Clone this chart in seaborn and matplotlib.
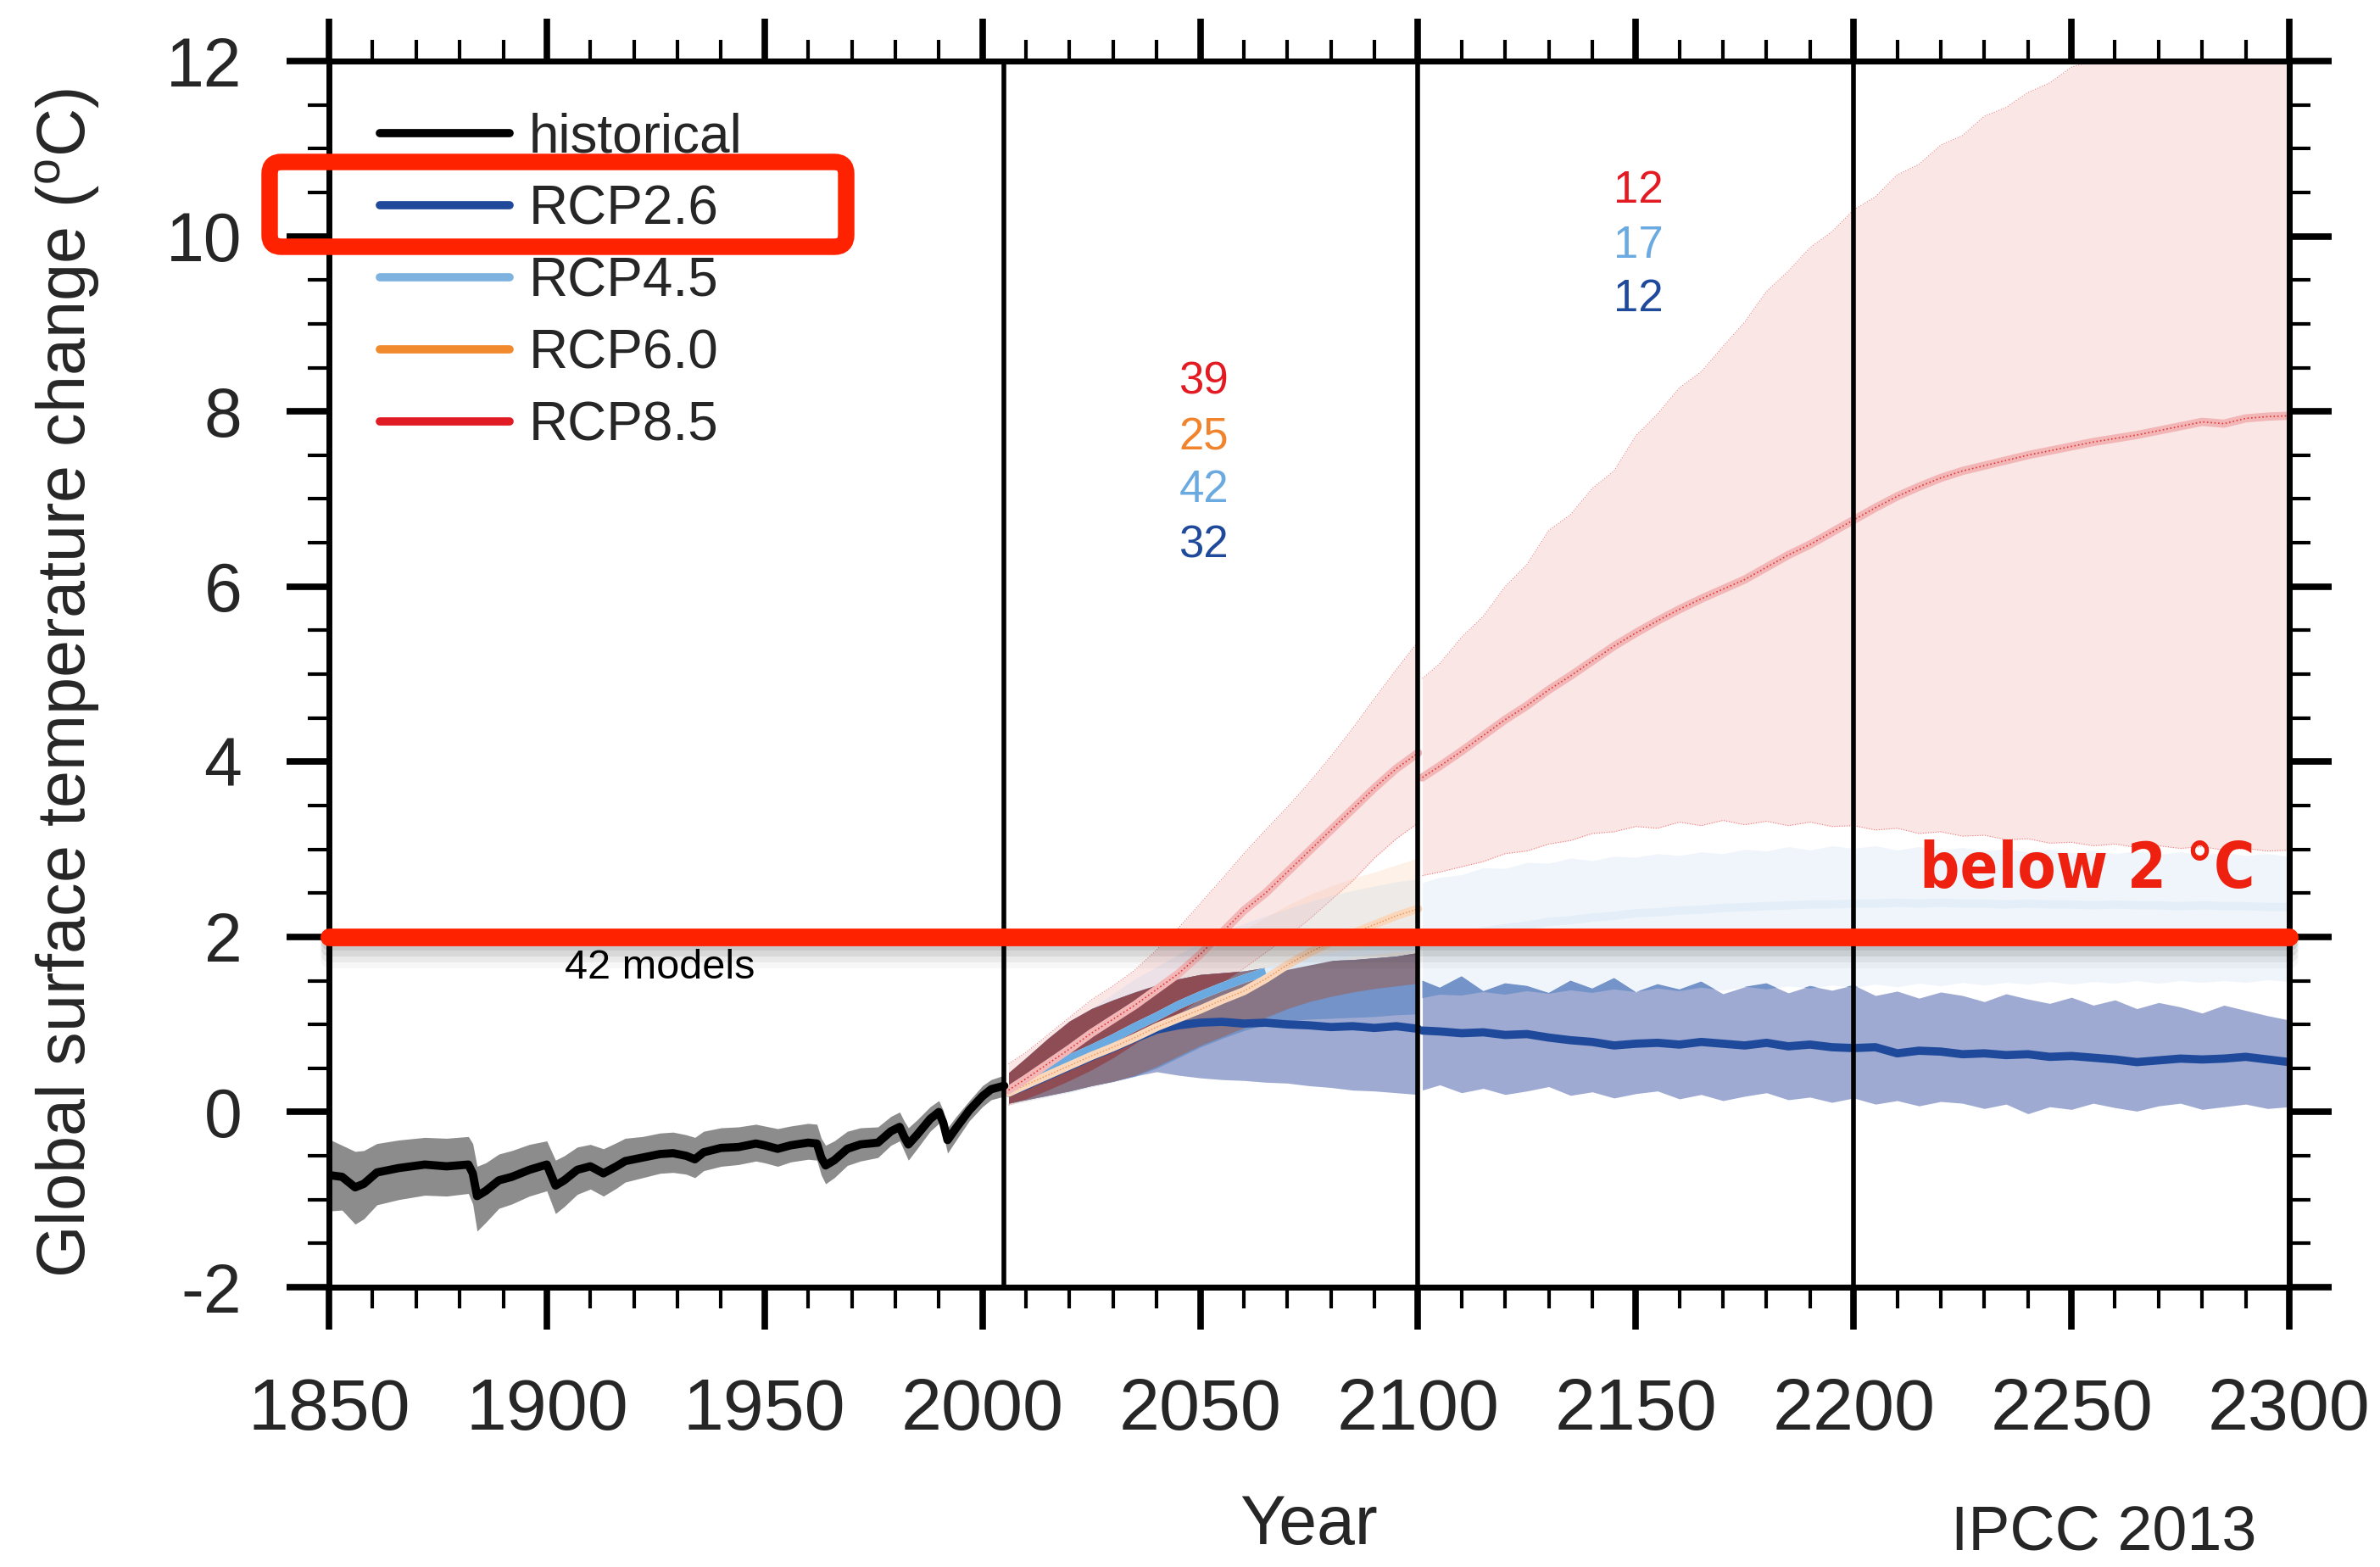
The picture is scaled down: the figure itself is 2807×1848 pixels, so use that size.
import numpy as np
import matplotlib
matplotlib.use('Agg')
import matplotlib.pyplot as plt
import seaborn as sns
from matplotlib.lines import Line2D
from matplotlib.patches import FancyBboxPatch
from matplotlib.transforms import IdentityTransform
import matplotlib.patheffects as pe
from matplotlib.ticker import MultipleLocator
from matplotlib import font_manager

# ---------------- data ----------------
hist_years = [1850, 1853, 1856, 1858, 1861, 1866, 1872, 1877, 1882, 1883,
              1884, 1886, 1889, 1892, 1896, 1900, 1902, 1904, 1907, 1910,
              1913, 1916, 1918, 1922, 1926, 1929, 1932, 1934, 1936, 1940,
              1944, 1948, 1950, 1953, 1956, 1960, 1962, 1963, 1964, 1966,
              1969, 1972, 1976, 1979, 1981, 1982, 1983, 1985, 1988, 1990,
              1991, 1992, 1994, 1997, 2000, 2002, 2005]
hist_mean = [-0.72, -0.74, -0.86, -0.82, -0.69, -0.64, -0.60, -0.62, -0.60, -0.70,
             -0.96, -0.90, -0.78, -0.74, -0.66, -0.60, -0.84, -0.78, -0.66, -0.62,
             -0.70, -0.62, -0.56, -0.52, -0.48, -0.47, -0.50, -0.54, -0.46, -0.41,
             -0.40, -0.36, -0.38, -0.42, -0.38, -0.35, -0.36, -0.52, -0.61, -0.55,
             -0.42, -0.37, -0.35, -0.22, -0.17, -0.28, -0.37, -0.26, -0.08, 0.00,
             -0.12, -0.32, -0.18, 0.02, 0.18, 0.26, 0.30]
hist_hi = [-0.31, -0.38, -0.45, -0.44, -0.36, -0.32, -0.29, -0.30, -0.28, -0.36,
           -0.62, -0.58, -0.48, -0.44, -0.37, -0.33, -0.55, -0.50, -0.40, -0.37,
           -0.42, -0.35, -0.30, -0.28, -0.24, -0.23, -0.26, -0.29, -0.22, -0.18,
           -0.17, -0.14, -0.16, -0.19, -0.16, -0.13, -0.14, -0.30, -0.38, -0.33,
           -0.22, -0.18, -0.17, -0.05, 0.00, -0.10, -0.18, -0.09, 0.06, 0.13,
           0.02, -0.18, -0.05, 0.13, 0.30, 0.37, 0.42]
hist_lo = [-1.13, -1.12, -1.28, -1.22, -1.06, -1.00, -0.95, -0.96, -0.93, -1.05,
           -1.36, -1.26, -1.10, -1.05, -0.96, -0.90, -1.16, -1.08, -0.94, -0.88,
           -0.96, -0.87, -0.80, -0.75, -0.70, -0.69, -0.71, -0.75, -0.67, -0.62,
           -0.60, -0.56, -0.58, -0.62, -0.57, -0.54, -0.55, -0.72, -0.82, -0.75,
           -0.61, -0.56, -0.52, -0.38, -0.33, -0.44, -0.55, -0.42, -0.22, -0.13,
           -0.25, -0.47, -0.32, -0.10, 0.06, 0.14, 0.18]

years_a = [2006, 2010, 2015, 2020, 2025, 2030, 2035, 2040, 2045, 2050,
           2055, 2060, 2065, 2070, 2075, 2080, 2085, 2090, 2095, 2100]
rcp26_mean_a = [0.22, 0.30, 0.41, 0.52, 0.63, 0.73, 0.84, 0.94, 0.99, 1.02,
                1.03, 1.01, 1.02, 1.00, 0.99, 0.97, 0.98, 0.96, 0.98, 0.95]
rcp26_lo_a = [0.10, 0.14, 0.19, 0.24, 0.30, 0.35, 0.41, 0.46, 0.42, 0.39,
              0.37, 0.36, 0.34, 0.33, 0.30, 0.28, 0.25, 0.24, 0.22, 0.20]
rcp26_hi_a = [0.45, 0.62, 0.84, 1.04, 1.18, 1.28, 1.37, 1.45, 1.52, 1.57,
              1.59, 1.61, 1.65, 1.68, 1.70, 1.73, 1.74, 1.76, 1.78, 1.82]
rcp45_mean_a = [0.24, 0.35, 0.48, 0.61, 0.72, 0.84, 0.97, 1.09, 1.22, 1.33,
                1.43, 1.52, 1.60, 1.67, 1.72, 1.77, 1.81, 1.84, 1.87, 1.89]
rcp45_lo_a = [0.08, 0.12, 0.17, 0.22, 0.28, 0.34, 0.40, 0.50, 0.62, 0.74,
              0.84, 0.93, 1.00, 1.04, 1.06, 1.07, 1.08, 1.09, 1.11, 1.12]
rcp45_hi_a = [0.42, 0.58, 0.80, 1.00, 1.18, 1.35, 1.52, 1.66, 1.80, 1.93,
              2.05, 2.15, 2.24, 2.32, 2.40, 2.47, 2.53, 2.58, 2.63, 2.66]
rcp60_mean_a = [0.22, 0.31, 0.42, 0.53, 0.64, 0.74, 0.85, 0.97, 1.07, 1.17,
                1.28, 1.38, 1.52, 1.68, 1.82, 1.94, 2.04, 2.14, 2.24, 2.32]
rcp60_lo_a = [0.08, 0.12, 0.18, 0.23, 0.29, 0.35, 0.42, 0.52, 0.64, 0.76,
              0.86, 0.96, 1.08, 1.18, 1.26, 1.32, 1.37, 1.41, 1.44, 1.47]
rcp60_hi_a = [0.40, 0.52, 0.68, 0.84, 1.00, 1.15, 1.30, 1.46, 1.62, 1.78,
              1.94, 2.08, 2.22, 2.36, 2.48, 2.58, 2.67, 2.74, 2.82, 2.90]
rcp85_mean_a = [0.25, 0.38, 0.55, 0.72, 0.90, 1.06, 1.22, 1.40, 1.58, 1.80,
                2.05, 2.30, 2.50, 2.74, 2.98, 3.22, 3.46, 3.70, 3.92, 4.10]
rcp85_lo_a = [0.08, 0.15, 0.25, 0.36, 0.48, 0.62, 0.78, 0.95, 1.12, 1.30,
              1.48, 1.64, 1.82, 2.00, 2.20, 2.42, 2.64, 2.90, 3.12, 3.30]
rcp85_hi_a = [0.55, 0.68, 0.88, 1.08, 1.28, 1.44, 1.62, 1.85, 2.10, 2.38,
              2.66, 2.95, 3.22, 3.48, 3.76, 4.06, 4.38, 4.72, 5.05, 5.37]

years_b = [2101, 2105, 2110, 2115, 2120, 2125, 2130, 2135, 2140, 2145,
           2150, 2155, 2160, 2165, 2170, 2175, 2180, 2185, 2190, 2195,
           2200, 2205, 2210, 2215, 2220, 2225, 2230, 2235, 2240, 2245,
           2250, 2255, 2260, 2265, 2270, 2275, 2280, 2285, 2290, 2295,
           2300]
rcp26_mean_b = [0.93, 0.92, 0.90, 0.91, 0.88, 0.89, 0.85, 0.82, 0.80, 0.76,
                0.78, 0.79, 0.77, 0.80, 0.78, 0.76, 0.79, 0.75, 0.77, 0.74,
                0.73, 0.74, 0.67, 0.70, 0.69, 0.66, 0.67, 0.65, 0.66, 0.63,
                0.64, 0.62, 0.60, 0.57, 0.59, 0.61, 0.60, 0.61, 0.63, 0.60,
                0.57]
rcp26_hi_b = [1.50, 1.42, 1.55, 1.38, 1.47, 1.44, 1.36, 1.50, 1.41, 1.53,
              1.37, 1.46, 1.40, 1.49, 1.35, 1.43, 1.47, 1.36, 1.44, 1.39,
              1.45, 1.33, 1.38, 1.30, 1.37, 1.33, 1.26, 1.35, 1.29, 1.24,
              1.31, 1.22, 1.28, 1.18, 1.25, 1.20, 1.13, 1.22, 1.16, 1.10,
              1.05]
rcp26_lo_b = [0.25, 0.31, 0.22, 0.27, 0.20, 0.24, 0.29, 0.19, 0.23, 0.16,
              0.21, 0.24, 0.15, 0.20, 0.13, 0.18, 0.22, 0.14, 0.17, 0.11,
              0.16, 0.09, 0.13, 0.07, 0.12, 0.10, 0.04, 0.09, -0.02, 0.06,
              0.03, 0.10, 0.05, 0.01, 0.07, 0.10, 0.03, 0.06, 0.09, 0.04,
              0.06]
rcp45_mean_b = [1.95, 1.98, 2.02, 2.06, 2.10, 2.13, 2.17, 2.19, 2.22, 2.24,
                2.27, 2.28, 2.30, 2.31, 2.33, 2.34, 2.35, 2.36, 2.37, 2.37,
                2.38, 2.38, 2.39, 2.38, 2.39, 2.38, 2.38, 2.37, 2.38, 2.37,
                2.37, 2.36, 2.37, 2.36, 2.36, 2.35, 2.36, 2.35, 2.35, 2.34,
                2.34]
rcp45_hi_b = [2.62, 2.68, 2.71, 2.79, 2.78, 2.85, 2.84, 2.90, 2.87, 2.92,
              2.91, 2.95, 2.93, 2.97, 2.95, 3.00, 2.98, 3.03, 2.99, 3.04,
              3.01, 3.04, 2.99, 3.03, 2.99, 3.02, 2.98, 3.01, 2.97, 3.00,
              2.96, 2.99, 2.95, 2.98, 2.94, 2.97, 2.94, 2.96, 2.93, 2.95,
              2.92]
rcp45_lo_b = [1.30, 1.34, 1.33, 1.37, 1.34, 1.38, 1.35, 1.39, 1.36, 1.40,
              1.37, 1.41, 1.38, 1.42, 1.39, 1.43, 1.40, 1.44, 1.41, 1.45,
              1.42, 1.46, 1.43, 1.47, 1.44, 1.48, 1.45, 1.48, 1.46, 1.49,
              1.46, 1.49, 1.47, 1.50, 1.47, 1.50, 1.48, 1.50, 1.48, 1.51,
              1.49]
rcp85_mean_b = [3.82, 3.95, 4.12, 4.30, 4.48, 4.64, 4.82, 4.98, 5.15, 5.32,
                5.47, 5.61, 5.74, 5.86, 5.97, 6.08, 6.22, 6.36, 6.48, 6.62,
                6.76, 6.90, 7.03, 7.14, 7.24, 7.32, 7.38, 7.44, 7.50, 7.55,
                7.60, 7.65, 7.69, 7.73, 7.78, 7.83, 7.88, 7.86, 7.92, 7.94,
                7.95]
rcp85_hi_b = [4.95, 5.12, 5.42, 5.66, 6.00, 6.25, 6.64, 6.82, 7.12, 7.32,
              7.72, 7.97, 8.27, 8.45, 8.74, 9.02, 9.37, 9.60, 9.87, 10.05,
              10.30, 10.45, 10.70, 10.82, 11.04, 11.15, 11.37, 11.47, 11.64, 11.75,
              11.93, 12.0, 12.0, 12.0, 12.0, 12.0, 12.0, 12.0, 12.0, 12.0,
              12.0]
rcp85_lo_b = [2.70, 2.74, 2.80, 2.86, 2.95, 2.98, 3.06, 3.10, 3.18, 3.20,
              3.26, 3.24, 3.31, 3.27, 3.33, 3.28, 3.32, 3.27, 3.31, 3.26,
              3.27, 3.22, 3.24, 3.18, 3.20, 3.15, 3.16, 3.11, 3.12, 3.07,
              3.08, 3.04, 3.06, 3.02, 3.04, 3.01, 3.03, 2.99, 3.01, 2.98,
              2.99]

legend_labels = ['historical', 'RCP2.6', 'RCP4.5', 'RCP6.0', 'RCP8.5']
count_labels_a = ['39', '25', '42', '32']
count_labels_b = ['12', '17', '12']
x_ticks = [1850, 1900, 1950, 2000, 2050, 2100, 2150, 2200, 2250, 2300]
y_ticks = [-2, 0, 2, 4, 6, 8, 10, 12]
period_lines = [2005, 2100, 2200]
threshold = 2.0

# ---------------- style ----------------
C26 = '#1f4a9c'
C45 = '#6aaae0'
C60 = '#f0832c'
C85 = '#e31a22'

sns.set_theme(style='ticks')
plt.rcParams['font.family'] = ['Liberation Sans', 'DejaVu Sans']
plt.rcParams['mathtext.fontset'] = 'custom'
plt.rcParams['mathtext.rm'] = 'Liberation Sans'
plt.rcParams['mathtext.it'] = 'Liberation Sans'
plt.rcParams['axes.unicode_minus'] = False

W, H = 2807, 1848
fig = plt.figure(figsize=(W / 100, H / 100), dpi=100)
ax = fig.add_axes([388 / W, 1 - 1518 / H, (2700 - 388) / W, (1518 - 72) / H])
ax.set_facecolor('white')

ya, yb = np.array(years_a), np.array(years_b)
A = {k: np.array(v) for k, v in dict(
    m26=rcp26_mean_a, l26=rcp26_lo_a, h26=rcp26_hi_a,
    m45=rcp45_mean_a, l45=rcp45_lo_a, h45=rcp45_hi_a,
    m60=rcp60_mean_a, l60=rcp60_lo_a, h60=rcp60_hi_a,
    m85=rcp85_mean_a, l85=rcp85_lo_a, h85=rcp85_hi_a).items()}
B = {k: np.array(v) for k, v in dict(
    m26=rcp26_mean_b, l26=rcp26_lo_b, h26=rcp26_hi_b,
    m45=rcp45_mean_b, l45=rcp45_lo_b, h45=rcp45_hi_b,
    m85=rcp85_mean_b, l85=rcp85_lo_b, h85=rcp85_hi_b).items()}

# faded bands (other scenarios)
for x, D in ((ya, A), (yb, B)):
    ax.fill_between(x, D['l85'], D['h85'], color='#f4a6a6', alpha=0.28, lw=0, zorder=1)
    ax.plot(x, D['h85'], color='#ec7a7a', lw=0.8, ls=':', zorder=1.1)
    ax.plot(x, D['l85'], color='#ec7a7a', lw=0.8, ls=':', zorder=1.1)
    ax.fill_between(x, D['l45'], D['h45'], color='#b9d3ec', alpha=0.22, lw=0, zorder=1.2)
ax.fill_between(ya, A['l60'], A['h60'], color='#f7c29a', alpha=0.22, lw=0, zorder=1.1)

# historical band
ax.fill_between(hist_years, hist_lo, hist_hi, color='#8c8c8c', lw=0, zorder=2)


def overlap(x, lo1, hi1, lo2, hi2, color, z):
    lo = np.maximum(lo1, lo2)
    hi = np.minimum(hi1, hi2)
    ax.fill_between(x, lo, hi, where=hi > lo, interpolate=True, color=color, lw=0, zorder=z)


# RCP2.6 band and overlaps
for x, D in ((ya, A), (yb, B)):
    ax.fill_between(x, D['l26'], D['h26'], color='#9eaad2', lw=0, zorder=3)
    overlap(x, D['l26'], D['h26'], D['l45'], D['h45'], '#7393c9', 3.1)
overlap(ya, A['l26'], A['h26'], A['l60'], A['h60'], '#887585', 3.2)
overlap(ya, A['l26'], A['h26'], A['l85'], A['h85'], '#8e4d55', 3.3)

# mean lines
for x, D in ((ya, A), (yb, B)):
    sns.lineplot(x=x, y=D['m26'], color=C26, lw=7, ax=ax, zorder=4)
for x, D in ((ya, A), (yb, B)):
    sns.lineplot(x=x, y=D['m45'], color='#e4eef8', lw=7, ax=ax, zorder=4.1)
inside = A['m45'] < A['h26'] - 0.02
ax.plot(ya, np.where(inside, A['m45'], np.nan), color=C45, lw=7, zorder=4.2,
        solid_capstyle='butt')
sns.lineplot(x=ya, y=A['m60'], color='#fad6ba', lw=7, ax=ax, zorder=4.3)
ax.plot(ya, A['m60'], color='#f09050', lw=1.0, ls=':', zorder=4.31)
for x, D in ((ya, A), (yb, B)):
    sns.lineplot(x=x, y=D['m85'], color='#f3b6b6', lw=7, ax=ax, zorder=4.4)
    ax.plot(x, D['m85'], color='#e03a3a', lw=1.2, ls=':', zorder=4.41)

sns.lineplot(x=hist_years, y=hist_mean, color='black', lw=7, ax=ax, zorder=4.5)

for yr in period_lines:
    ax.axvline(yr, color='black', lw=4, zorder=5)

# axes
ax.set_xlim(1850, 2300)
ax.set_ylim(-2, 12)
ax.set_xticks(x_ticks)
ax.set_yticks(y_ticks)
ax.xaxis.set_minor_locator(MultipleLocator(10))
ax.yaxis.set_minor_locator(MultipleLocator(0.5))
ax.tick_params(which='major', direction='out', length=36, width=5.5,
               top=True, right=True, color='black')
ax.tick_params(which='minor', direction='out', length=18, width=3,
               top=True, right=True, color='black')
ax.tick_params(axis='x', labelsize=62, pad=40)
ax.tick_params(axis='y', labelsize=58, pad=38)
for s in ax.spines.values():
    s.set_linewidth(5)
    s.set_color('black')
    s.set_zorder(10)

ax.set_ylabel(r'Global surface temperature change ($^{\mathrm{o}}$C)', fontsize=57)
ax.yaxis.set_label_coords(-0.116, 0.493)
ax.set_xlabel('Year', fontsize=58)
ax.xaxis.set_label_coords(0.5, -0.169)

# legend
handles = [Line2D([0], [0], color=c, lw=7) for c in
           ['black', C26, '#7eb3e0', '#f08a2c', '#e01b24']]
ax.legend(handles, legend_labels, loc='upper left', bbox_to_anchor=(0.026, 0.958),
          frameon=False, fontsize=46, handlelength=2.4, handletextpad=0.35,
          labelspacing=0.39, borderpad=0, borderaxespad=0)

# model counts
for lab, yv, c in zip(count_labels_a, [8.34, 7.70, 7.10, 6.47], [C85, C60, C45, C26]):
    ax.text(2050.8, yv, lab, color=c, fontsize=38, ha='center', va='center', zorder=6)
for lab, yv, c in zip(count_labels_b, [10.52, 9.89, 9.28], [C85, C45, C26]):
    ax.text(2150.6, yv, lab, color=c, fontsize=38, ha='center', va='center', zorder=6)
ax.text(1926, 1.65, '42 models', color='black', fontsize=35, ha='center', va='center', zorder=6)

# annotations: 2 degree line, box, text
shadow = [pe.SimpleLineShadow(offset=(0, -o), shadow_color='black', alpha=a)
          for o, a in ((4, 0.10), (9, 0.08), (14, 0.05), (19, 0.03))]
ax.axhline(threshold, color='#ff2200', lw=15, solid_capstyle='round', clip_on=False,
           zorder=20, path_effects=shadow + [pe.Normal()])

box = FancyBboxPatch((318, H - 291), 680, 100, boxstyle='round,pad=0,rounding_size=14',
                     transform=IdentityTransform(), lw=14, ec='#ff2200', fc='none', zorder=20)
fig.add_artist(box)

# pick a condensed bold face for the hand-written note if one is installed
cond = [f for f in font_manager.fontManager.ttflist
        if str(f.stretch) in ('condensed', 'semi-condensed', 'extra-condensed', 'ultra-condensed')]
cond_bold = [f for f in cond if str(f.weight) in ('bold', '700', 'heavy', '800', 'black', '900')]
note_kw = dict(family=['Liberation Sans', 'DejaVu Sans'], fontsize=54, fontweight='bold')
pick = cond_bold[0] if cond_bold else (cond[0] if cond else None)
if pick is not None:
    note_kw = dict(family=[pick.name, 'DejaVu Sans'], fontsize=53, fontweight='bold',
                   fontstretch=pick.stretch)
ax.text(2253.7, 2.76, 'below 2 \u00b0C', color='#ee2010', ha='center', va='center',
        zorder=21, **note_kw)

fig.text(2481 / W, 1 - 1808 / H, 'IPCC 2013', fontsize=53, ha='center', va='center')

fig.savefig('out.png', dpi=100, facecolor='white')
